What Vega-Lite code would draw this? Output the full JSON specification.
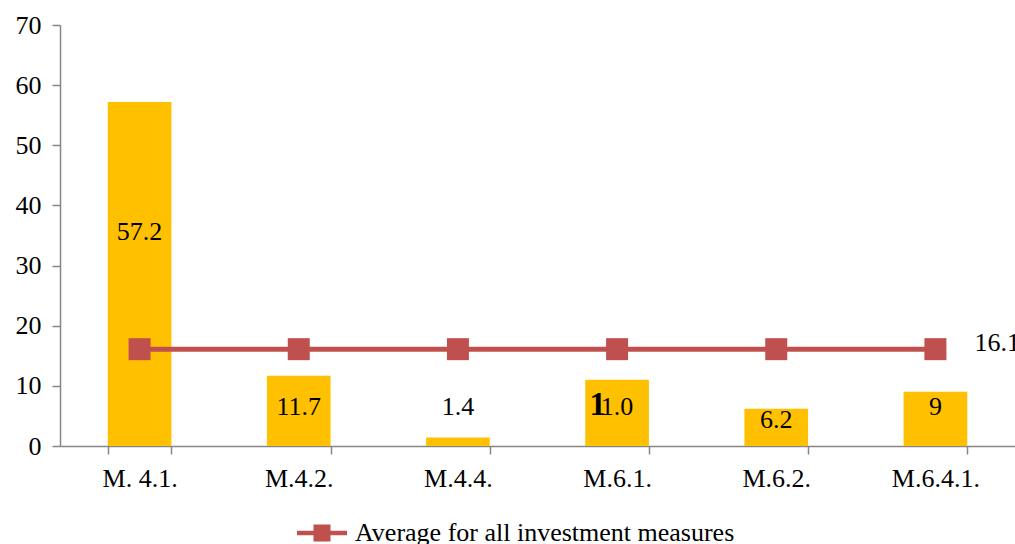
{
  "$schema": "https://vega.github.io/schema/vega-lite/v6.json",
  "width": 955,
  "height": 421,
  "padding": {"left": 60, "top": 25, "right": 0, "bottom": 98},
  "autosize": {"type": "none"},
  "background": "white",
  "config": {
    "font": "Liberation Serif",
    "view": {"stroke": null},
    "axis": {"grid": false, "domainColor": "#868686", "tickColor": "#868686", "domainWidth": 1.5, "tickWidth": 1.5, "labelFont": "Liberation Serif", "labelFontSize": 26, "labelColor": "#000000", "title": null}
  },
  "data": {
    "values": [
      {"measure": "M. 4.1.", "value": 57.2, "label": "57.2", "avg": 16.1},
      {"measure": "M.4.2.", "value": 11.7, "label": "11.7", "avg": 16.1},
      {"measure": "M.4.4.", "value": 1.4, "label": "1.4", "avg": 16.1},
      {"measure": "M.6.1.", "value": 11.0, "label": "1.0", "avg": 16.1},
      {"measure": "M.6.2.", "value": 6.2, "label": "6.2", "avg": 16.1},
      {"measure": "M.6.4.1.", "value": 9, "label": "9", "avg": 16.1}
    ]
  },
  "encoding": {
    "x": {
      "field": "measure", "type": "nominal", "sort": null,
      "scale": {"paddingInner": 0.6, "paddingOuter": 0.3},
      "axis": {"labelAngle": 0, "tickBand": "extent", "tickSize": 8, "labelPadding": 11, "labelFontSize": 26, "labelFont": "Liberation Serif"}
    }
  },
  "layer": [
    {
      "mark": {"type": "bar", "color": "#FFC000"},
      "encoding": {
        "y": {"field": "value", "type": "quantitative", "scale": {"domain": [0, 70]},
          "axis": {"values": [0,10,20,30,40,50,60,70], "tickSize": 8, "labelPadding": 11, "labelFontSize": 26, "labelFont": "Liberation Serif"}}
      }
    },
    {
      "transform": [{"calculate": "datum.value > 30 ? 35.6 : (datum.value > 5 && datum.value < 7 ? 4.3 : 6.5)", "as": "ly"}],
      "mark": {"type": "text", "fontSize": 26, "font": "Liberation Serif", "color": "#000000", "baseline": "middle"},
      "encoding": {
        "y": {"field": "ly", "type": "quantitative"},
        "text": {"field": "label"},
        "align": {"condition": {"test": "datum.measure === 'M.6.1.'", "value": "left"}, "value": "center"},
        "dx": {"condition": {"test": "datum.measure === 'M.6.1.'", "value": -9}, "value": 0}
      }
    },
    {
      "transform": [{"filter": "datum.measure === 'M.6.1.'"}],
      "mark": {"type": "text", "fontSize": 33, "fontWeight": "bold", "font": "Liberation Serif", "color": "#000000", "baseline": "middle", "align": "right", "dx": -11, "dy": -2},
      "encoding": {
        "y": {"datum": 6.5, "type": "quantitative"},
        "text": {"value": "1"}
      }
    },
    {
      "mark": {"type": "line", "color": "#C0504D", "strokeWidth": 5},
      "encoding": {"y": {"field": "avg", "type": "quantitative"}}
    },
    {
      "mark": {"type": "point", "shape": "square", "filled": true, "size": 484, "opacity": 1},
      "encoding": {
        "y": {"field": "avg", "type": "quantitative"},
        "color": {
          "datum": "Average for all investment measures",
          "scale": {"range": ["#C0504D"]},
          "legend": {
            "orient": "none", "legendX": 237, "legendY": 483, "title": null, "padding": 0,
            "symbolType": "M-1,-0.09H1V0.09H-1Z M-0.34,-0.34H0.34V0.34H-0.34Z",
            "symbolSize": 2500, "symbolStrokeWidth": 0, "symbolOpacity": 1,
            "labelFont": "Liberation Serif", "labelFontSize": 26, "labelColor": "#000000", "labelOffset": 8, "labelLimit": 0
          }
        }
      }
    },
    {
      "transform": [{"filter": "datum.measure === 'M.6.4.1.'"}],
      "mark": {"type": "text", "fontSize": 26, "font": "Liberation Serif", "color": "#000000", "align": "left", "baseline": "middle", "dx": 39, "dy": -6},
      "encoding": {
        "y": {"field": "avg", "type": "quantitative"},
        "text": {"field": "avg", "type": "quantitative", "format": ".1f"}
      }
    }
  ]
}
